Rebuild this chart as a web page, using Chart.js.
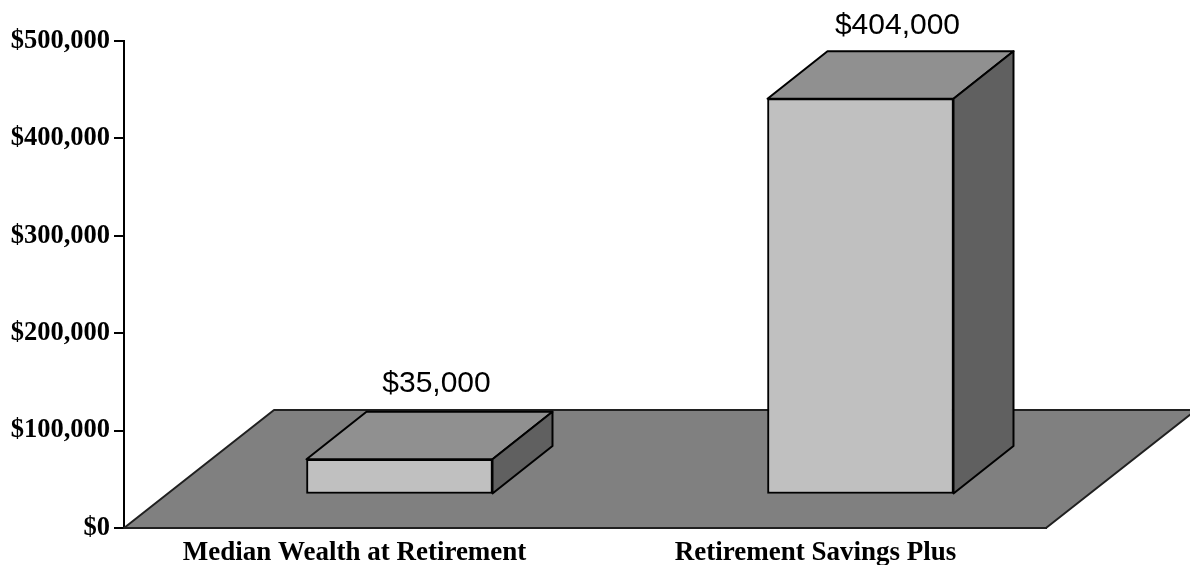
<!DOCTYPE html>
<html>
<head>
<meta charset="utf-8">
<title>Retirement wealth</title>
<script src="https://cdn.jsdelivr.net/npm/chart.js@4/dist/chart.umd.js"></script>
<style>
  html,body{margin:0;padding:0;background:#fff;overflow:hidden;}
  canvas{display:block;}
</style>
</head>
<body>
<canvas id="chart" width="1190" height="565"></canvas>
<script>
const categories = ['Median Wealth at Retirement', 'Retirement Savings Plus'];
const wealthValues = [35000, 404000];
const yTickValues = [0, 100000, 200000, 300000, 400000, 500000];

const BAR_DEPTH = {x:60, y:-47.5};
const FLOOR_DEPTH = {x:150, y:-118};
const LABEL_SHIFT_X = 37;
const LABEL_RISE = [67, 64.5];

function money(v){ return '$' + Number(v).toLocaleString('en-US'); }

function fillFace(ctx, pts, fill, stroke, lineWidth){
  ctx.beginPath();
  pts.forEach((p,i)=> i ? ctx.lineTo(p[0],p[1]) : ctx.moveTo(p[0],p[1]));
  ctx.closePath();
  ctx.fillStyle = fill;
  ctx.fill();
  ctx.strokeStyle = stroke;
  ctx.lineWidth = lineWidth;
  ctx.lineJoin = 'round';
  ctx.stroke();
}

// floor and the top/side faces of the bars, the front face is the bar itself
const box3d = {
  id:'box3d',
  beforeDatasetsDraw(chart){
    const {ctx, scales:{x, y}} = chart;
    const y0 = y.getPixelForValue(0);
    ctx.save();
    fillFace(ctx, [
      [x.left, y0], [x.right, y0],
      [x.right+FLOOR_DEPTH.x, y0+FLOOR_DEPTH.y], [x.left+FLOOR_DEPTH.x, y0+FLOOR_DEPTH.y]
    ], '#808080', '#202020', 2);
    chart.getDatasetMeta(0).data.forEach(bar=>{
      const l = bar.x-bar.width/2, r = bar.x+bar.width/2;
      const dx = BAR_DEPTH.x, dy = BAR_DEPTH.y;
      fillFace(ctx, [[l,bar.y],[r,bar.y],[r+dx,bar.y+dy],[l+dx,bar.y+dy]], '#909090', '#000', 2);
      fillFace(ctx, [[r,bar.y],[r+dx,bar.y+dy],[r+dx,bar.base+dy],[r,bar.base]], '#606060', '#000', 2);
    });
    ctx.restore();
  },
  afterDatasetsDraw(chart){
    const {ctx} = chart;
    ctx.save();
    ctx.font = '30px "Liberation Sans"';
    ctx.fillStyle = '#000';
    ctx.textAlign = 'center';
    ctx.textBaseline = 'alphabetic';
    chart.getDatasetMeta(0).data.forEach((bar,i)=>{
      ctx.fillText(money(wealthValues[i]), bar.x+LABEL_SHIFT_X, bar.y-LABEL_RISE[i]);
    });
    ctx.restore();
  }
};

new Chart(document.getElementById('chart'), {
  type:'bar',
  data:{
    labels:categories,
    datasets:[{
      data:wealthValues.map((v,i)=>({x:i, y:v})),
      xAxisID:'xBar',
      yAxisID:'yBar',
      backgroundColor:'#c0c0c0',
      borderColor:'#000',
      borderWidth:2,
      borderSkipped:false,
      barThickness:186
    }]
  },
  options:{
    responsive:false,
    animation:false,
    layout:{padding:{top:41, right:144, left:0, bottom:0}},
    plugins:{legend:{display:false}, tooltip:{enabled:false}},
    scales:{
      x:{
        type:'category',
        offset:true,
        afterFit(s){ s.height = 37; },
        grid:{display:false},
        border:{color:'#000', width:2},
        ticks:{color:'#000', padding:1, maxRotation:0, autoSkip:false,
          font:{family:'"Liberation Serif"', size:27, weight:'bold'}}
      },
      y:{
        min:0,
        max:500000,
        afterFit(s){ s.width = 124; },
        afterBuildTicks(s){ s.ticks = yTickValues.map(v=>({value:v})); },
        grid:{drawOnChartArea:false, tickLength:10, color:'#000', lineWidth:2},
        border:{color:'#000', width:2},
        ticks:{color:'#000', padding:4, callback:money,
          font:{family:'"Liberation Serif"', size:26.5, weight:'bold'}}
      },
      // bars stand on the floor, so they use their own shifted scales
      xBar:{type:'linear', display:false, offset:false, min:-0.5976, max:1.4024},
      yBar:{type:'linear', display:false, min:-35350, max:463050}
    }
  },
  plugins:[box3d]
});
</script>
</body>
</html>
